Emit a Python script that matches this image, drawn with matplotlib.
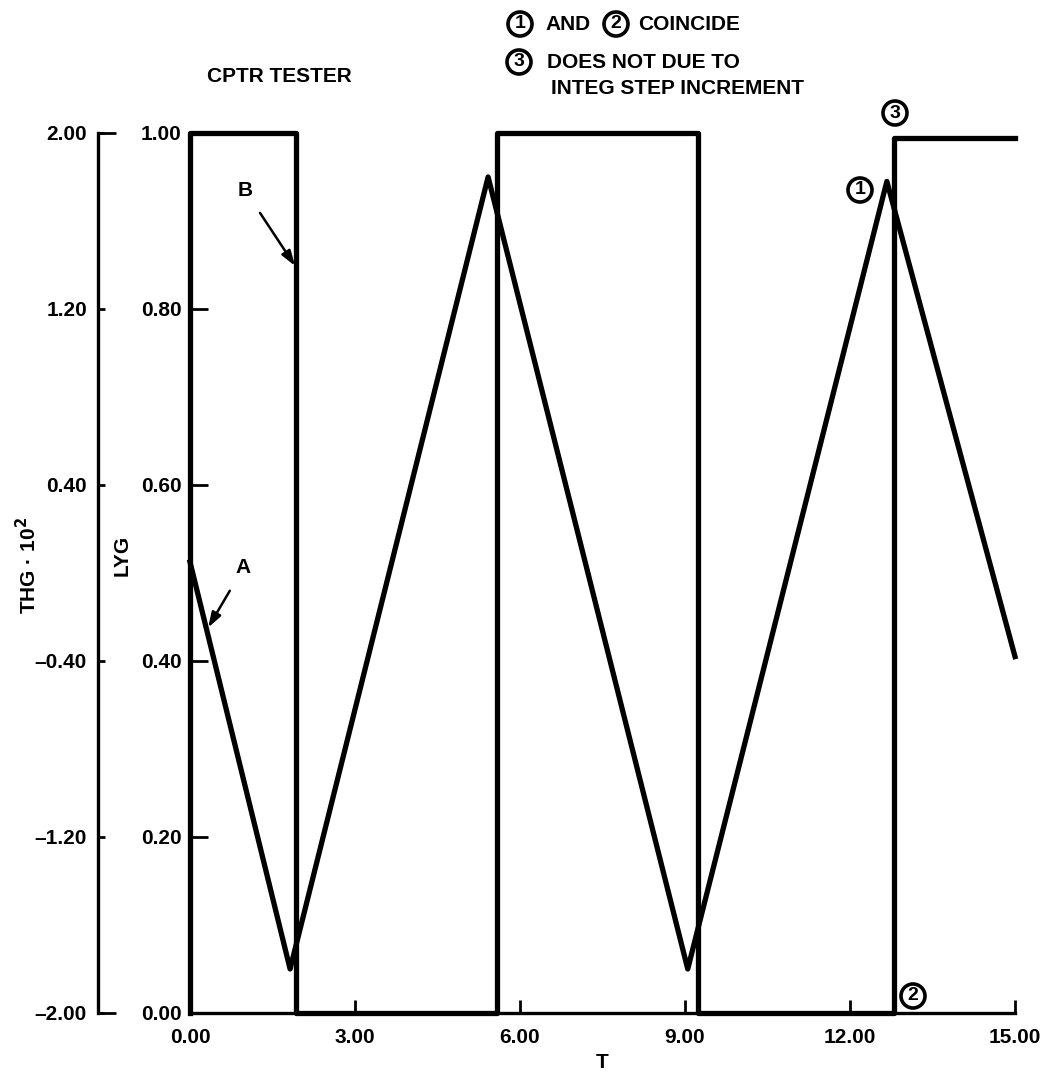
import matplotlib
matplotlib.use('Agg')
import matplotlib.pyplot as plt

plt.rcParams['font.family'] = ['Liberation Sans', 'DejaVu Sans', 'Noto Sans CJK JP']
plt.rcParams['font.weight'] = 'bold'

# square wave LYG (switch times / levels)
SQ_T = [0.0, 0.0, 1.93, 5.58, 9.24, 12.80, 15.0]
SQ_LYG = [0.0, 1.0, 0.0, 1.0, 0.0, 0.994, 0.994]

# triangle wave THG * 10^2 (corner points)
TRI_T = [0.0, 1.82, 5.42, 9.05, 12.67, 15.0]
TRI_THG = [0.05, -1.80, 1.80, -1.80, 1.78, -0.38]

X_TICKS = [0, 3, 6, 9, 12, 15]
LYG_TICKS = [0.0, 0.2, 0.4, 0.6, 0.8, 1.0]
THG_TICKS = [-2.0, -1.2, -0.4, 0.4, 1.2, 2.0]

FS = 15
LW = 3.8

fig = plt.figure(figsize=(10.45, 10.72), dpi=100)
ax = fig.add_axes([190 / 1045, 59 / 1072, 825 / 1045, 880 / 1072])
ax2 = ax.twinx()

ax.step(SQ_T, SQ_LYG, where='post', color='black', lw=LW, solid_joinstyle='round',
        clip_on=False, zorder=3)
ax2.plot(TRI_T, TRI_THG, color='black', lw=LW, solid_joinstyle='round',
         clip_on=False, zorder=3)

ax.set_xlim(0, 15)
ax.set_ylim(0, 1)
ax2.set_ylim(-2, 2)

for a in (ax, ax2):
    for s in ('top', 'right'):
        a.spines[s].set_visible(False)
ax2.spines['bottom'].set_visible(False)
ax.spines['left'].set_linewidth(2.4)
ax.spines['bottom'].set_linewidth(2.4)

ax.set_xticks(X_TICKS)
ax.set_xticklabels([f'{v:.2f}' for v in X_TICKS], fontsize=FS, fontweight='bold')
ax.set_yticks(LYG_TICKS)
ax.set_yticklabels([f'{v:.2f}' for v in LYG_TICKS], fontsize=FS, fontweight='bold')
ax.tick_params(axis='x', direction='in', length=9.5, width=2, pad=11)
ax.tick_params(axis='y', direction='in', length=13, width=2, pad=6)

# outer THG axis
ax2.spines['left'].set_visible(True)
ax2.spines['left'].set_position(('axes', -0.1115))
ax2.spines['left'].set_linewidth(2.4)
ax2.yaxis.set_ticks_position('left')
ax2.yaxis.set_label_position('left')
ax2.set_yticks(THG_TICKS)
ax2.set_yticklabels([f'{v:.2f}'.replace('-', '\u2013') for v in THG_TICKS],
                    fontsize=FS, fontweight='bold')
ax2.yaxis.remove_overlapping_locs = False
ax2.set_yticks([-2.0, 2.0], minor=True)
ax2.tick_params(axis='y', which='major', direction='in', length=5, width=2, pad=8)
ax2.tick_params(axis='y', which='minor', direction='in', length=13, width=2)

ax.set_xlabel('T', fontsize=FS, fontweight='bold', labelpad=4)
ax.set_ylabel('LYG', fontsize=FS, fontweight='bold')
ax.yaxis.set_label_coords(-0.0703, 0.52)
ax2.set_ylabel('THG \u00b7 10$^{\\mathbf{2}}$', fontsize=FS, fontweight='bold')
ax2.yaxis.set_label_coords(-0.182, 0.508)

# annotations
ax.annotate('B', xy=(1.91, 0.849), xytext=(1.0, 0.935), fontsize=FS, fontweight='bold',
            ha='center', va='center',
            arrowprops=dict(arrowstyle='-|>,head_length=0.6,head_width=0.2',
                            color='black', lw=1.8, shrinkA=9, shrinkB=0))
ax.annotate('A', xy=(0.33, 0.438), xytext=(0.97, 0.506), fontsize=FS, fontweight='bold',
            ha='center', va='center',
            arrowprops=dict(arrowstyle='-|>,head_length=0.6,head_width=0.2',
                            color='black', lw=1.8, shrinkA=9, shrinkB=0))

circ = dict(boxstyle='circle,pad=0.18', fc='white', ec='black', lw=2.6)
CS = 14
fig.text(207 / 1045, 1 - 77 / 1072, 'CPTR TESTER', fontsize=FS, fontweight='bold',
         ha='left', va='center')

fig.text(520 / 1045, 1 - 24 / 1072, '1', fontsize=CS, fontweight='bold',
         ha='center', va='center', bbox=circ)
fig.text(545 / 1045, 1 - 24 / 1072, 'AND', fontsize=FS, fontweight='bold',
         ha='left', va='center')
fig.text(616 / 1045, 1 - 24 / 1072, '2', fontsize=CS, fontweight='bold',
         ha='center', va='center', bbox=circ)
fig.text(638 / 1045, 1 - 24 / 1072, 'COINCIDE', fontsize=FS, fontweight='bold',
         ha='left', va='center')
fig.text(519 / 1045, 1 - 62 / 1072, '3', fontsize=CS, fontweight='bold',
         ha='center', va='center', bbox=circ)
fig.text(547 / 1045, 1 - 62 / 1072, 'DOES NOT DUE TO', fontsize=FS, fontweight='bold',
         ha='left', va='center')
fig.text(551 / 1045, 1 - 89 / 1072, 'INTEG STEP INCREMENT', fontsize=FS, fontweight='bold',
         ha='left', va='center')

fig.text(895 / 1045, 1 - 113 / 1072, '3', fontsize=CS, fontweight='bold',
         ha='center', va='center', bbox=circ)
fig.text(860 / 1045, 1 - 190 / 1072, '1', fontsize=CS, fontweight='bold',
         ha='center', va='center', bbox=circ)
fig.text(913 / 1045, 1 - 996 / 1072, '2', fontsize=CS, fontweight='bold',
         ha='center', va='center', bbox=circ)

fig.savefig('out.png', dpi=100, facecolor='white')
